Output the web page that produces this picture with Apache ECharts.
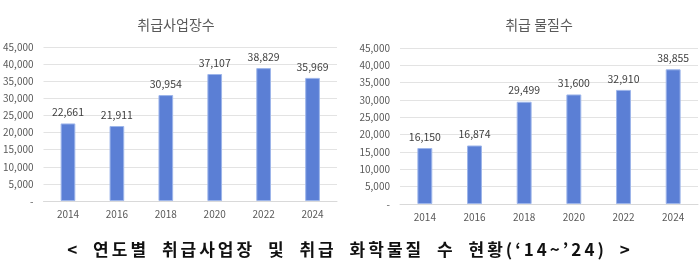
<!DOCTYPE html>
<html>
<head>
<meta charset="utf-8">
<script src="https://cdn.jsdelivr.net/npm/echarts@6/dist/echarts.min.js"></script>
<style>
  html, body { margin: 0; padding: 0; background: #fff; }
  #wrap { position: relative; width: 700px; height: 269px; }
  #main { width: 700px; height: 269px; }
  .caption {
    position: absolute; left: 0; top: 237px; width: 700px; text-align: center;
    font-family: "Noto Sans CJK KR", sans-serif; font-weight: bold; font-size: 17px;
    letter-spacing: 3px; word-spacing: 6px; color: #111; line-height: 24px;
  }
</style>
</head>
<body>
<div id="wrap">
  <div id="main"></div>
  <div class="caption">&lt; 연도별 취급사업장 및 취급 화학물질 수 현황(‘14~’24) &gt;</div>
</div>
<script>
// 연도 (카테고리)
var years = ['2014', '2016', '2018', '2020', '2022', '2024'];
// 취급사업장수
var siteCounts = [22661, 21911, 30954, 37107, 38829, 35969];
// 취급 물질수
var substanceCounts = [16150, 16874, 29499, 31600, 32910, 38855];
// 차트 제목
var chartTitles = ['취급사업장수', '취급 물질수'];

(function() {
    var myChart = echarts.init(document.querySelector('#main'));
    var font = '"Noto Sans CJK KR", sans-serif';

    function fmt(v) {
        return v === 0 ? '-' : v.toLocaleString('en-US');
    }

    function xAxisOf(i) {
        return {
            type: 'category',
            gridIndex: i,
            data: years,
            axisTick: { show: false },
            axisLine: { lineStyle: { color: '#d9d9d9' } },
            axisLabel: { color: '#595959', fontSize: 10, fontFamily: font, margin: 8 }
        };
    }

    function yAxisOf(i) {
        return {
            type: 'value',
            gridIndex: i,
            min: 0,
            max: 45000,
            interval: 5000,
            axisLine: { show: false },
            axisTick: { show: false },
            splitLine: { lineStyle: { color: '#e3e3e3' } },
            axisLabel: { color: '#595959', fontSize: 10, fontFamily: font, margin: 10, formatter: fmt }
        };
    }

    function barOf(i, data) {
        return {
            type: 'bar',
            xAxisIndex: i,
            yAxisIndex: i,
            data: data,
            barWidth: '30%',
            itemStyle: { color: '#5b7fd5', borderColor: '#9db5ea', borderWidth: 1 },
            label: {
                show: true,
                position: 'top',
                distance: 6,
                color: '#404040',
                fontSize: 10.5,
                fontFamily: font,
                formatter: function(p) { return fmt(p.value); }
            }
        };
    }

    var option = {
        animation: false,
        title: [{
            text: chartTitles[0],
            left: 171, top: 13,
            textAlign: 'center',
            textStyle: { color: '#595959', fontSize: 14, fontWeight: 'normal', fontFamily: font }
        }, {
            text: chartTitles[1],
            left: 534, top: 13,
            textAlign: 'center',
            textStyle: { color: '#595959', fontSize: 14, fontWeight: 'normal', fontFamily: font }
        }],
        grid: [
            { left: 37, right: 363, top: 47, bottom: 68 },
            { left: 400, right: 2, top: 48, bottom: 65 }
        ],
        xAxis: [xAxisOf(0), xAxisOf(1)],
        yAxis: [yAxisOf(0), yAxisOf(1)],
        series: [barOf(0, siteCounts), barOf(1, substanceCounts)]
    };

    myChart.setOption(option);
})();
</script>
</body>
</html>
